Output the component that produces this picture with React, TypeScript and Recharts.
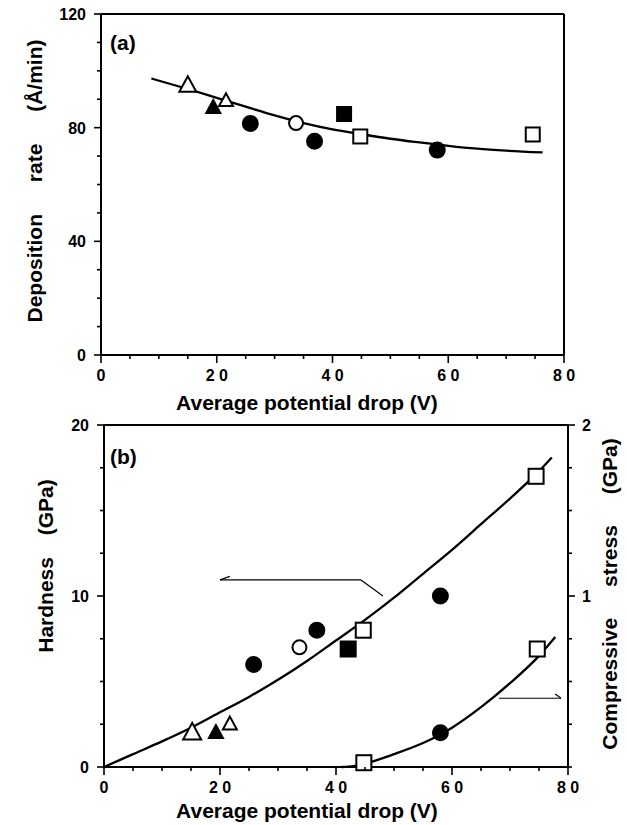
import { ComposedChart, Line, Scatter, XAxis, YAxis, ReferenceLine } from "recharts";

const FONT = '"Liberation Sans", Arial, Helvetica, sans-serif';

// (a) deposition rate (A/min) vs average potential drop (V)
const aOpenTriangle = [{ x: 15, y: 94.8 }, { x: 21.6, y: 89.4 }];
const aFilledTriangle = [{ x: 19.4, y: 87 }];
const aFilledCircle = [{ x: 25.8, y: 81.5 }, { x: 36.9, y: 75.2 }, { x: 58.1, y: 72.1 }];
const aOpenCircle = [{ x: 33.7, y: 81.6 }];
const aFilledSquare = [{ x: 42, y: 84.8 }];
const aOpenSquare = [{ x: 44.8, y: 76.9 }, { x: 74.6, y: 77.6 }];
const aFit = [
  { x: 8.7, y: 97.3 }, { x: 15, y: 93.6 }, { x: 20, y: 90.5 }, { x: 25, y: 87.4 },
  { x: 30, y: 84.3 }, { x: 35, y: 81.6 }, { x: 40, y: 79.4 }, { x: 45, y: 77.7 },
  { x: 50, y: 76.1 }, { x: 55, y: 74.8 }, { x: 60, y: 73.6 }, { x: 65, y: 72.6 },
  { x: 70, y: 71.9 }, { x: 76.3, y: 71.3 },
];

// (b) hardness (GPa, left) and compressive stress (GPa, right)
const bOpenTriangle = [{ x: 15.2, y: 2.0 }, { x: 21.7, y: 2.5 }];
const bFilledTriangle = [{ x: 19.3, y: 2.0 }];
const bFilledCircle = [{ x: 25.8, y: 6.0 }, { x: 36.7, y: 8.0 }, { x: 58.0, y: 10.0 }];
const bOpenCircle = [{ x: 33.7, y: 7.0 }];
const bFilledSquare = [{ x: 42.1, y: 6.9 }];
const bOpenSquare = [{ x: 44.7, y: 8.0 }, { x: 74.5, y: 17.0 }];
const bHardFit = [
  { x: 0, y: 0 }, { x: 5, y: 0.75 }, { x: 10, y: 1.5 }, { x: 15, y: 2.3 },
  { x: 20, y: 3.2 }, { x: 25, y: 4.1 }, { x: 30, y: 5.1 }, { x: 35, y: 6.2 },
  { x: 40, y: 7.4 }, { x: 45, y: 8.6 }, { x: 50, y: 9.9 }, { x: 55, y: 11.3 },
  { x: 60, y: 12.7 }, { x: 65, y: 14.2 }, { x: 70, y: 15.7 }, { x: 75, y: 17.3 },
  { x: 77.2, y: 18.1 },
];
const bStressOpenSquare = [{ x: 44.8, y: 0.025 }, { x: 74.7, y: 0.69 }];
const bStressFilledCircle = [{ x: 58.0, y: 0.2 }];
const bStressFit = [
  { x: 41, y: 0 }, { x: 43, y: 0.005 }, { x: 45, y: 0.02 }, { x: 50, y: 0.075 },
  { x: 55, y: 0.14 }, { x: 58, y: 0.19 }, { x: 60, y: 0.23 }, { x: 65, y: 0.35 },
  { x: 70, y: 0.49 }, { x: 75, y: 0.65 }, { x: 77.8, y: 0.76 },
];

// arrows pointing to the axis each curve belongs to (data coords, hardness axis)
const hardArrow = [{ x: 48.1, y: 10.0 }, { x: 44.3, y: 10.94 }, { x: 20, y: 10.94 }];
const hardArrowBarb = [{ x: 20, y: 10.94 }, { x: 21.7, y: 11.15 }];
const stressArrow = [{ x: 68.1, y: 4.02 }, { x: 78.8, y: 4.02 }];
const stressArrowBarb = [{ x: 78.8, y: 4.02 }, { x: 77.8, y: 4.27 }];

const xTicks = [0, 5, 10, 15, 20, 25, 30, 35, 40, 45, 50, 55, 60, 65, 70, 75, 80];
const xLabels = [0, 20, 40, 60, 80];
const aYTicks = [0, 10, 20, 30, 40, 50, 60, 70, 80, 90, 100, 110, 120];
const aYLabels = [0, 40, 80, 120];
const bYTicks = [0, 2.5, 5, 7.5, 10, 12.5, 15, 17.5, 20];
const bYLabels = [0, 10, 20];
const bRTicks = [0, 0.25, 0.5, 0.75, 1, 1.25, 1.5, 1.75, 2];
const bRLabels = [1, 2];

const tickText = { fontFamily: FONT, fontWeight: 700, fontSize: 16, fill: "#000" };

function BottomTick({ x, y, payload, labels }: any) {
  const major = labels.includes(payload.value);
  return (
    <g>
      <line x1={x} y1={y} x2={x} y2={y + (major ? 8 : 4)} stroke="#000" strokeWidth={1.6} />
      {major && (
        <text x={x} y={y + 26} textAnchor="middle" {...tickText} style={{ whiteSpace: "pre" }}>
          {String(payload.value).split("").join(" ")}
        </text>
      )}
    </g>
  );
}

function LeftTick({ x, y, payload, labels }: any) {
  const major = labels.includes(payload.value);
  return (
    <g>
      <line x1={x - (major ? 7 : 4)} y1={y} x2={x} y2={y} stroke="#000" strokeWidth={1.6} />
      {major && (
        <text x={x - 15} y={y + 6} textAnchor="end" {...tickText}>
          {payload.value}
        </text>
      )}
    </g>
  );
}

function RightTick({ x, y, payload, labels }: any) {
  const major = labels.includes(payload.value);
  return (
    <g>
      <line x1={x} y1={y} x2={x + (major ? 7 : 4)} y2={y} stroke="#000" strokeWidth={1.6} />
      {major && (
        <text x={x + 14} y={y + 6} textAnchor="start" {...tickText}>
          {payload.value}
        </text>
      )}
    </g>
  );
}

const marker = (kind: string, size: number, small?: number) => (p: any) => {
  const { cx, cy, index } = p;
  if (cx == null || cy == null) return <g />;
  const s = small && index > 0 ? small : size;
  const stroke = "#000";
  const open = kind.startsWith("open");
  const fill = open ? "#fff" : "#000";
  if (kind.endsWith("Triangle")) {
    const h = s * 0.92;
    const pts = `${cx},${cy - h * 0.6} ${cx - s / 2},${cy + h * 0.4} ${cx + s / 2},${cy + h * 0.4}`;
    return <polygon points={pts} fill={fill} stroke={stroke} strokeWidth={2} strokeLinejoin="miter" />;
  }
  if (kind.endsWith("Circle")) {
    return <circle cx={cx} cy={cy} r={s / 2} fill={fill} stroke={stroke} strokeWidth={2} />;
  }
  return <rect x={cx - s / 2} y={cy - s / 2} width={s} height={s} fill={fill} stroke={stroke} strokeWidth={2} />;
};

const seg = (pts: { x: number; y: number }[]) =>
  pts.slice(1).map((p, i) => [pts[i], p] as [{ x: number; y: number }, { x: number; y: number }]);

function PanelA() {
  return (
    <ComposedChart width={627} height={420} margin={{ top: 14, right: 63, bottom: 35, left: 61 }}>
      <XAxis
        type="number"
        dataKey="x"
        domain={[0, 80]}
        ticks={xTicks}
        interval={0}
        tickSize={0}
        tickMargin={0}
        tickLine={false}
        height={30}
        axisLine={{ stroke: "#000", strokeWidth: 2 }}
        tick={(p: any) => <BottomTick {...p} labels={xLabels} />}
      />
      <YAxis
        type="number"
        dataKey="y"
        domain={[0, 120]}
        ticks={aYTicks}
        interval={0}
        tickSize={0}
        tickMargin={0}
        tickLine={false}
        width={40}
        axisLine={{ stroke: "#000", strokeWidth: 2 }}
        tick={(p: any) => <LeftTick {...p} labels={aYLabels} />}
      />
      <ReferenceLine y={120} stroke="#000" strokeWidth={2} />
      <ReferenceLine x={80} stroke="#000" strokeWidth={2} />
      <Line data={aFit} dataKey="y" type="monotone" dot={false} stroke="#000" strokeWidth={2.3} isAnimationActive={false} />
      <Scatter data={aOpenTriangle} shape={marker("openTriangle", 17, 14)} isAnimationActive={false} />
      <Scatter data={aFilledTriangle} shape={marker("filledTriangle", 14)} isAnimationActive={false} />
      <Scatter data={aFilledCircle} shape={marker("filledCircle", 15)} isAnimationActive={false} />
      <Scatter data={aOpenCircle} shape={marker("openCircle", 14)} isAnimationActive={false} />
      <Scatter data={aFilledSquare} shape={marker("filledSquare", 14)} isAnimationActive={false} />
      <Scatter data={aOpenSquare} shape={marker("openSquare", 14)} isAnimationActive={false} />
    </ComposedChart>
  );
}

function PanelB() {
  return (
    <ComposedChart width={627} height={415} margin={{ top: 15, right: 19, bottom: 28, left: 64 }}>
      <XAxis
        type="number"
        dataKey="x"
        domain={[0, 80]}
        ticks={xTicks}
        interval={0}
        tickSize={0}
        tickMargin={0}
        tickLine={false}
        height={30}
        axisLine={{ stroke: "#000", strokeWidth: 2 }}
        tick={(p: any) => <BottomTick {...p} labels={xLabels} />}
      />
      <YAxis
        yAxisId="left"
        type="number"
        dataKey="y"
        domain={[0, 20]}
        ticks={bYTicks}
        interval={0}
        tickSize={0}
        tickMargin={0}
        tickLine={false}
        width={40}
        axisLine={{ stroke: "#000", strokeWidth: 2 }}
        tick={(p: any) => <LeftTick {...p} labels={bYLabels} />}
      />
      <YAxis
        yAxisId="right"
        orientation="right"
        type="number"
        dataKey="y"
        domain={[0, 2]}
        ticks={bRTicks}
        interval={0}
        tickSize={0}
        tickMargin={0}
        tickLine={false}
        width={40}
        axisLine={{ stroke: "#000", strokeWidth: 2 }}
        tick={(p: any) => <RightTick {...p} labels={bRLabels} />}
      />
      <ReferenceLine yAxisId="left" y={20} stroke="#000" strokeWidth={2} />
      {seg(hardArrow).concat(seg(hardArrowBarb), seg(stressArrow), seg(stressArrowBarb)).map((s, i) => (
        <ReferenceLine key={i} yAxisId="left" segment={s} stroke="#000" strokeWidth={1.2} />
      ))}
      <Line yAxisId="left" data={bHardFit} dataKey="y" type="monotone" dot={false} stroke="#000" strokeWidth={2.3} isAnimationActive={false} />
      <Line yAxisId="right" data={bStressFit} dataKey="y" type="monotone" dot={false} stroke="#000" strokeWidth={2.3} isAnimationActive={false} />
      <Scatter yAxisId="left" data={bOpenTriangle} shape={marker("openTriangle", 18, 14)} isAnimationActive={false} />
      <Scatter yAxisId="left" data={bFilledTriangle} shape={marker("filledTriangle", 14)} isAnimationActive={false} />
      <Scatter yAxisId="left" data={bFilledCircle} shape={marker("filledCircle", 15)} isAnimationActive={false} />
      <Scatter yAxisId="left" data={bOpenCircle} shape={marker("openCircle", 14)} isAnimationActive={false} />
      <Scatter yAxisId="left" data={bFilledSquare} shape={marker("filledSquare", 15)} isAnimationActive={false} />
      <Scatter yAxisId="left" data={bOpenSquare} shape={marker("openSquare", 15)} isAnimationActive={false} />
      <Scatter yAxisId="right" data={bStressOpenSquare} shape={marker("openSquare", 15)} isAnimationActive={false} />
      <Scatter yAxisId="right" data={bStressFilledCircle} shape={marker("filledCircle", 15)} isAnimationActive={false} />
    </ComposedChart>
  );
}

const title = { fontFamily: FONT, fontWeight: 700, fontSize: 21, fill: "#000" };

export default function App() {
  return (
    <div style={{ position: "absolute", left: 0, top: 0, width: 627, height: 825, background: "#fff" }}>
      <div style={{ position: "absolute", left: 0, top: 0 }}>
        <PanelA />
      </div>
      <div style={{ position: "absolute", left: 0, top: 410 }}>
        <PanelB />
      </div>
      <svg width={627} height={825} style={{ position: "absolute", left: 0, top: 0, pointerEvents: "none" }}>
        <text x={110} y={50} {...title}>(a)</text>
        <text x={110} y={464} {...title}>(b)</text>
        <text x={307} y={410} textAnchor="middle" {...title}>Average potential drop (V)</text>
        <text x={307} y={818} textAnchor="middle" {...title}>Average potential drop (V)</text>
        <text
          transform="translate(42,181) rotate(-90)"
          textAnchor="middle"
          {...title}
          style={{ wordSpacing: "26px" }}
        >
          Deposition rate (Å/min)
        </text>
        <text
          transform="translate(53,566) rotate(-90)"
          textAnchor="middle"
          {...title}
          style={{ wordSpacing: "16px" }}
        >
          Hardness (GPa)
        </text>
        <text
          transform="translate(617,594) rotate(-90)"
          textAnchor="middle"
          {...title}
          style={{ wordSpacing: "25px" }}
        >
          Compressive stress (GPa)
        </text>
      </svg>
    </div>
  );
}
